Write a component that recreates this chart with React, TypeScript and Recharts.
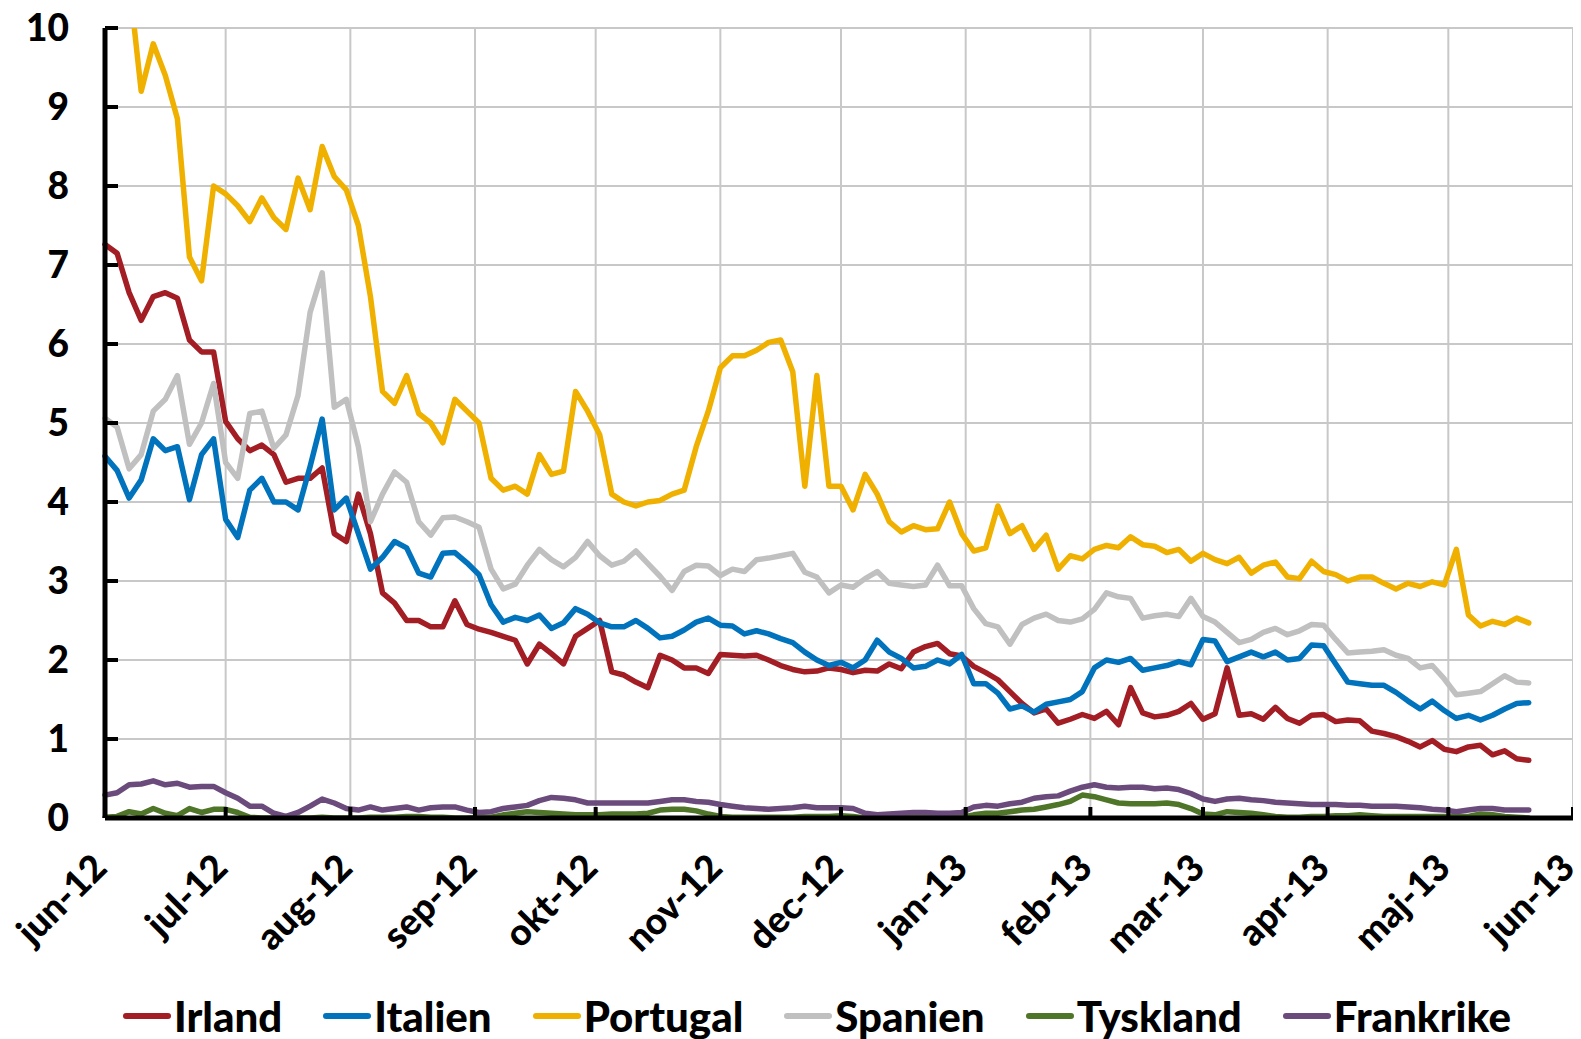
import React from 'react';
import { LineChart, Line, XAxis, YAxis, CartesianGrid, Legend } from 'recharts';

// Day offsets from 1 June 2012 (sampled every third day)
const days = [
  0, 3, 6, 9, 12, 15, 18, 21, 24, 27, 30, 33, 36, 39, 42, 45, 48, 51, 54, 57,
  60, 63, 66, 69, 72, 75, 78, 81, 84, 87, 90, 93, 96, 99, 102, 105, 108, 111, 114, 117,
  120, 123, 126, 129, 132, 135, 138, 141, 144, 147, 150, 153, 156, 159, 162, 165, 168, 171, 174, 177,
  180, 183, 186, 189, 192, 195, 198, 201, 204, 207, 210, 213, 216, 219, 222, 225, 228, 231, 234, 237,
  240, 243, 246, 249, 252, 255, 258, 261, 264, 267, 270, 273, 276, 279, 282, 285, 288, 291, 294, 297,
  300, 303, 306, 309, 312, 315, 318, 321, 324, 327, 330, 333, 336, 339, 342, 345, 348, 351, 354,
];

const irland = [
  7.26, 7.15, 6.65, 6.3, 6.6, 6.65, 6.58, 6.05, 5.9, 5.9,
  5.02, 4.8, 4.65, 4.72, 4.6, 4.25, 4.3, 4.3, 4.43, 3.6,
  3.5, 4.1, 3.6, 2.85, 2.72, 2.5, 2.5, 2.42, 2.42, 2.75,
  2.45, 2.39, 2.35, 2.3, 2.25, 1.95, 2.2, 2.08, 1.95, 2.3,
  2.4, 2.5, 1.85, 1.81, 1.72, 1.65, 2.06, 2.0, 1.9, 1.9,
  1.83, 2.07, 2.06, 2.05, 2.06, 2.0, 1.93, 1.88, 1.85, 1.86,
  1.9, 1.88, 1.84, 1.87, 1.86, 1.95, 1.89, 2.1, 2.17, 2.21,
  2.08, 2.05, 1.92, 1.84, 1.75, 1.6, 1.45, 1.33, 1.38, 1.2,
  1.25, 1.31, 1.26, 1.35, 1.18, 1.65, 1.33, 1.28, 1.3, 1.35,
  1.45, 1.25, 1.32, 1.9, 1.3, 1.32, 1.25, 1.4, 1.26, 1.2,
  1.3, 1.31, 1.22, 1.24, 1.23, 1.1, 1.07, 1.03, 0.97, 0.9,
  0.98, 0.87, 0.84, 0.9, 0.92, 0.8, 0.85, 0.75, 0.73,
];

const italien = [
  4.58, 4.4, 4.05, 4.28, 4.8, 4.65, 4.7, 4.03, 4.6, 4.8,
  3.78, 3.55, 4.15, 4.3, 4.0, 4.0, 3.9, 4.45, 5.05, 3.9,
  4.05, 3.6, 3.15, 3.3, 3.5, 3.42, 3.1, 3.05, 3.35, 3.36,
  3.23, 3.08, 2.7, 2.48, 2.54, 2.5, 2.57, 2.4, 2.47, 2.65,
  2.58, 2.47, 2.42, 2.42, 2.5, 2.4, 2.28, 2.3, 2.38, 2.48,
  2.53, 2.44, 2.43, 2.33, 2.37, 2.33, 2.27, 2.22, 2.1, 2.0,
  1.93, 1.97, 1.9, 2.0, 2.25, 2.1, 2.02, 1.9, 1.92, 2.0,
  1.95, 2.07, 1.7, 1.7, 1.58, 1.38, 1.42, 1.34, 1.44, 1.47,
  1.5, 1.6, 1.9, 2.0, 1.97, 2.02, 1.87, 1.9, 1.93, 1.98,
  1.94, 2.26, 2.24, 1.98, 2.04, 2.1, 2.04, 2.1, 2.0, 2.02,
  2.19, 2.18, 1.95, 1.72, 1.7, 1.68, 1.68, 1.59, 1.48, 1.38,
  1.48, 1.36, 1.26, 1.3, 1.24, 1.3, 1.38, 1.45, 1.46,
];

const portugal = [
  10.9, 10.9, 10.6, 9.2, 9.8, 9.4, 8.85, 7.1, 6.8, 8.0,
  7.9, 7.75, 7.55, 7.85, 7.6, 7.45, 8.1, 7.7, 8.5, 8.12,
  7.95, 7.5, 6.6, 5.4, 5.25, 5.6, 5.12, 5.0, 4.75, 5.3,
  5.15, 5.0, 4.3, 4.15, 4.2, 4.1, 4.6, 4.35, 4.39, 5.4,
  5.15, 4.85, 4.1, 4.0, 3.95, 4.0, 4.02, 4.1, 4.15, 4.7,
  5.15, 5.7, 5.85, 5.85, 5.92, 6.02, 6.05, 5.65, 4.2, 5.6,
  4.2, 4.2, 3.9, 4.35, 4.1, 3.75, 3.62, 3.7, 3.65, 3.66,
  4.0, 3.6, 3.38, 3.42, 3.95, 3.6, 3.7, 3.4, 3.58, 3.15,
  3.32, 3.28, 3.4, 3.45, 3.42, 3.56, 3.46, 3.44, 3.36, 3.4,
  3.25, 3.35, 3.27, 3.22, 3.3, 3.1, 3.2, 3.24, 3.05, 3.03,
  3.25, 3.12, 3.08, 3.0, 3.05, 3.05, 2.97, 2.9, 2.97, 2.93,
  2.99, 2.95, 3.4, 2.57, 2.43, 2.49, 2.45, 2.53, 2.47,
];

const spanien = [
  5.06, 4.95, 4.42, 4.6, 5.15, 5.3, 5.6, 4.73, 5.0, 5.5,
  4.5, 4.3, 5.12, 5.15, 4.68, 4.85, 5.35, 6.4, 6.9, 5.2,
  5.3, 4.7, 3.75, 4.1, 4.38, 4.25, 3.75, 3.58, 3.8, 3.81,
  3.75, 3.68, 3.15, 2.9, 2.96, 3.2, 3.4, 3.27, 3.18, 3.3,
  3.5, 3.32, 3.2, 3.25, 3.38, 3.22, 3.06, 2.88, 3.12, 3.2,
  3.19, 3.07, 3.15, 3.12, 3.27, 3.29, 3.32, 3.35, 3.11, 3.05,
  2.85, 2.95, 2.92, 3.03, 3.12, 2.97, 2.95, 2.93, 2.95, 3.2,
  2.94, 2.94, 2.65, 2.46, 2.42, 2.2, 2.45, 2.53, 2.58, 2.5,
  2.48, 2.52, 2.64, 2.85, 2.8, 2.78, 2.53, 2.56, 2.58, 2.55,
  2.78, 2.55, 2.48, 2.35, 2.22, 2.26, 2.35, 2.4, 2.32, 2.37,
  2.45, 2.44, 2.26, 2.09, 2.1, 2.11, 2.13, 2.06, 2.02, 1.9,
  1.93, 1.76, 1.56, 1.58, 1.6, 1.7, 1.8, 1.72, 1.71,
];

const tyskland = [
  0.01, 0.02, 0.08, 0.05, 0.12, 0.06, 0.03, 0.12, 0.07, 0.11,
  0.11, 0.07, 0.01, 0.0, 0.0, 0.01, 0.0, 0.0, 0.01, 0.0,
  0.0, 0.0, 0.01, 0.01, 0.01, 0.02, 0.02, 0.01, 0.01, 0.0,
  0.0, 0.01, 0.01, 0.04, 0.06, 0.08, 0.07, 0.06, 0.05, 0.04,
  0.04, 0.04, 0.05, 0.05, 0.05, 0.06, 0.1, 0.11, 0.11, 0.09,
  0.05, 0.02, 0.01, 0.01, 0.01, 0.01, 0.01, 0.01, 0.02, 0.02,
  0.02, 0.03, 0.02, 0.0, 0.0, 0.0, 0.0, 0.01, 0.01, 0.01,
  0.01, 0.01, 0.04, 0.06, 0.06, 0.08, 0.1, 0.11, 0.14, 0.17,
  0.21, 0.29, 0.27, 0.23, 0.19, 0.18, 0.18, 0.18, 0.19, 0.17,
  0.12, 0.05, 0.04, 0.08, 0.07, 0.06, 0.04, 0.02, 0.01, 0.01,
  0.02, 0.02, 0.03, 0.03, 0.04, 0.03, 0.02, 0.02, 0.02, 0.02,
  0.02, 0.02, 0.02, 0.02, 0.05, 0.04, 0.02, 0.01, 0.0,
];

const frankrike = [
  0.29, 0.32, 0.42, 0.43, 0.47, 0.42, 0.44, 0.39, 0.4, 0.4,
  0.32, 0.25, 0.15, 0.15, 0.06, 0.02, 0.07, 0.15, 0.24, 0.19,
  0.12, 0.1, 0.14, 0.1, 0.12, 0.14, 0.1, 0.13, 0.14, 0.14,
  0.1, 0.07, 0.08, 0.12, 0.14, 0.16, 0.22, 0.26, 0.25, 0.23,
  0.19, 0.19, 0.19, 0.19, 0.19, 0.19, 0.21, 0.23, 0.23, 0.21,
  0.2, 0.17, 0.15, 0.13, 0.12, 0.11, 0.12, 0.13, 0.15, 0.13,
  0.13, 0.13, 0.12, 0.06, 0.04, 0.05, 0.06, 0.07, 0.07, 0.06,
  0.06, 0.07, 0.14, 0.16, 0.15, 0.18, 0.2, 0.25, 0.27, 0.28,
  0.34, 0.39, 0.42, 0.39, 0.38, 0.39, 0.39, 0.37, 0.38, 0.36,
  0.31, 0.24, 0.21, 0.24, 0.25, 0.23, 0.22, 0.2, 0.19, 0.18,
  0.17, 0.17, 0.17, 0.16, 0.16, 0.15, 0.15, 0.15, 0.14, 0.13,
  0.11, 0.1, 0.08, 0.1, 0.12, 0.12, 0.1, 0.1, 0.1,
];

const monthTicks = [0, 30, 61, 92, 122, 153, 183, 214, 245, 273, 304, 334, 365];
const monthLabels = [
  'jun-12', 'jul-12', 'aug-12', 'sep-12', 'okt-12', 'nov-12', 'dec-12',
  'jan-13', 'feb-13', 'mar-13', 'apr-13', 'maj-13', 'jun-13',
];
const yTicks = [0, 1, 2, 3, 4, 5, 6, 7, 8, 9, 10];

const seriesNames = ['Irland', 'Italien', 'Portugal', 'Spanien', 'Tyskland', 'Frankrike'];
const seriesColors = ['#A31D24', '#0173BC', '#EFB000', '#C0C0C0', '#4F7528', '#6B4A7C'];
const seriesValues = [irland, italien, portugal, spanien, tyskland, frankrike];

const data = days.map((d, i) => {
  const row: Record<string, number> = { day: d };
  seriesNames.forEach((n, k) => {
    row[n] = seriesValues[k][i];
  });
  return row;
});

const FONT = 'Lato, "Open Sans", "DejaVu Sans", sans-serif';
const WEIGHT = 900;

const XTick = (props: any) => {
  const { x, y, payload } = props;
  const idx = monthTicks.indexOf(payload.value);
  const label = idx >= 0 ? monthLabels[idx] : '';
  return (
    <g>
      <line x1={x} y1={y} x2={x} y2={y - 11} stroke="#000" strokeWidth={4} />
      <text
        x={0}
        y={0}
        transform={`translate(${x + 4},${y + 52}) rotate(-45)`}
        textAnchor="end"
        fontFamily={FONT}
        fontWeight={WEIGHT}
        fontSize={37}
        fill="#000"
      >
        {label}
      </text>
    </g>
  );
};

const YTick = (props: any) => {
  const { x, y, payload } = props;
  return (
    <g>
      <line x1={x} y1={y} x2={x + 13} y2={y} stroke="#000" strokeWidth={4} />
      <text
        x={x - 36}
        y={y + 13}
        textAnchor="end"
        fontFamily={FONT}
        fontWeight={WEIGHT}
        fontSize={37}
        fill="#000"
      >
        {payload.value}
      </text>
    </g>
  );
};

const LegendContent = () => (
  <div
    style={{
      display: 'flex',
      justifyContent: 'flex-start',
      alignItems: 'center',
      height: 30,
      paddingLeft: 115,
      boxSizing: 'border-box',
    }}
  >
    {seriesNames.map((n, k) => (
      <div key={n} style={{ display: 'flex', alignItems: 'center', marginRight: 41 }}>
        <svg width={48} height={10} style={{ display: 'block' }}>
          <line x1={3} y1={5} x2={45} y2={5} stroke={seriesColors[k]} strokeWidth={6} strokeLinecap="round" />
        </svg>
        <span
          style={{
            marginLeft: 3,
            fontFamily: FONT,
            fontWeight: WEIGHT,
            fontSize: 42,
            lineHeight: '30px',
            color: '#000',
            whiteSpace: 'nowrap',
          }}
        >
          {n}
        </span>
      </div>
    ))}
  </div>
);

export default function App() {
  return (
    <div style={{ width: 1573, height: 1031 }}>
      <style>{`body{overflow:hidden;} .recharts-surface{overflow:visible;}`}</style>
      <LineChart
        width={1573}
        height={1031}
        data={data}
        margin={{ top: 20, right: 8, bottom: 8, left: 0 }}
      >
        <CartesianGrid stroke="#C8C8C8" strokeWidth={2} />
        <XAxis
          dataKey="day"
          type="number"
          domain={[0, 365]}
          ticks={monthTicks}
          interval={0}
          height={183}
          tickSize={0}
          tickMargin={0}
          tickLine={false}
          axisLine={{ stroke: '#000', strokeWidth: 5 }}
          tick={<XTick />}
        />
        <YAxis
          type="number"
          domain={[0, 10]}
          ticks={yTicks}
          allowDataOverflow
          width={97}
          tickSize={0}
          tickMargin={0}
          tickLine={false}
          axisLine={{ stroke: '#000', strokeWidth: 5 }}
          tick={<YTick />}
        />
        <Legend verticalAlign="bottom" content={<LegendContent />} />
        {seriesNames.map((n, k) => (
          <Line
            key={n}
            type="linear"
            dataKey={n}
            stroke={seriesColors[k]}
            strokeWidth={5.5}
            strokeLinejoin="round"
            strokeLinecap="round"
            dot={false}
            activeDot={false}
            isAnimationActive={false}
          />
        ))}
      </LineChart>
    </div>
  );
}
